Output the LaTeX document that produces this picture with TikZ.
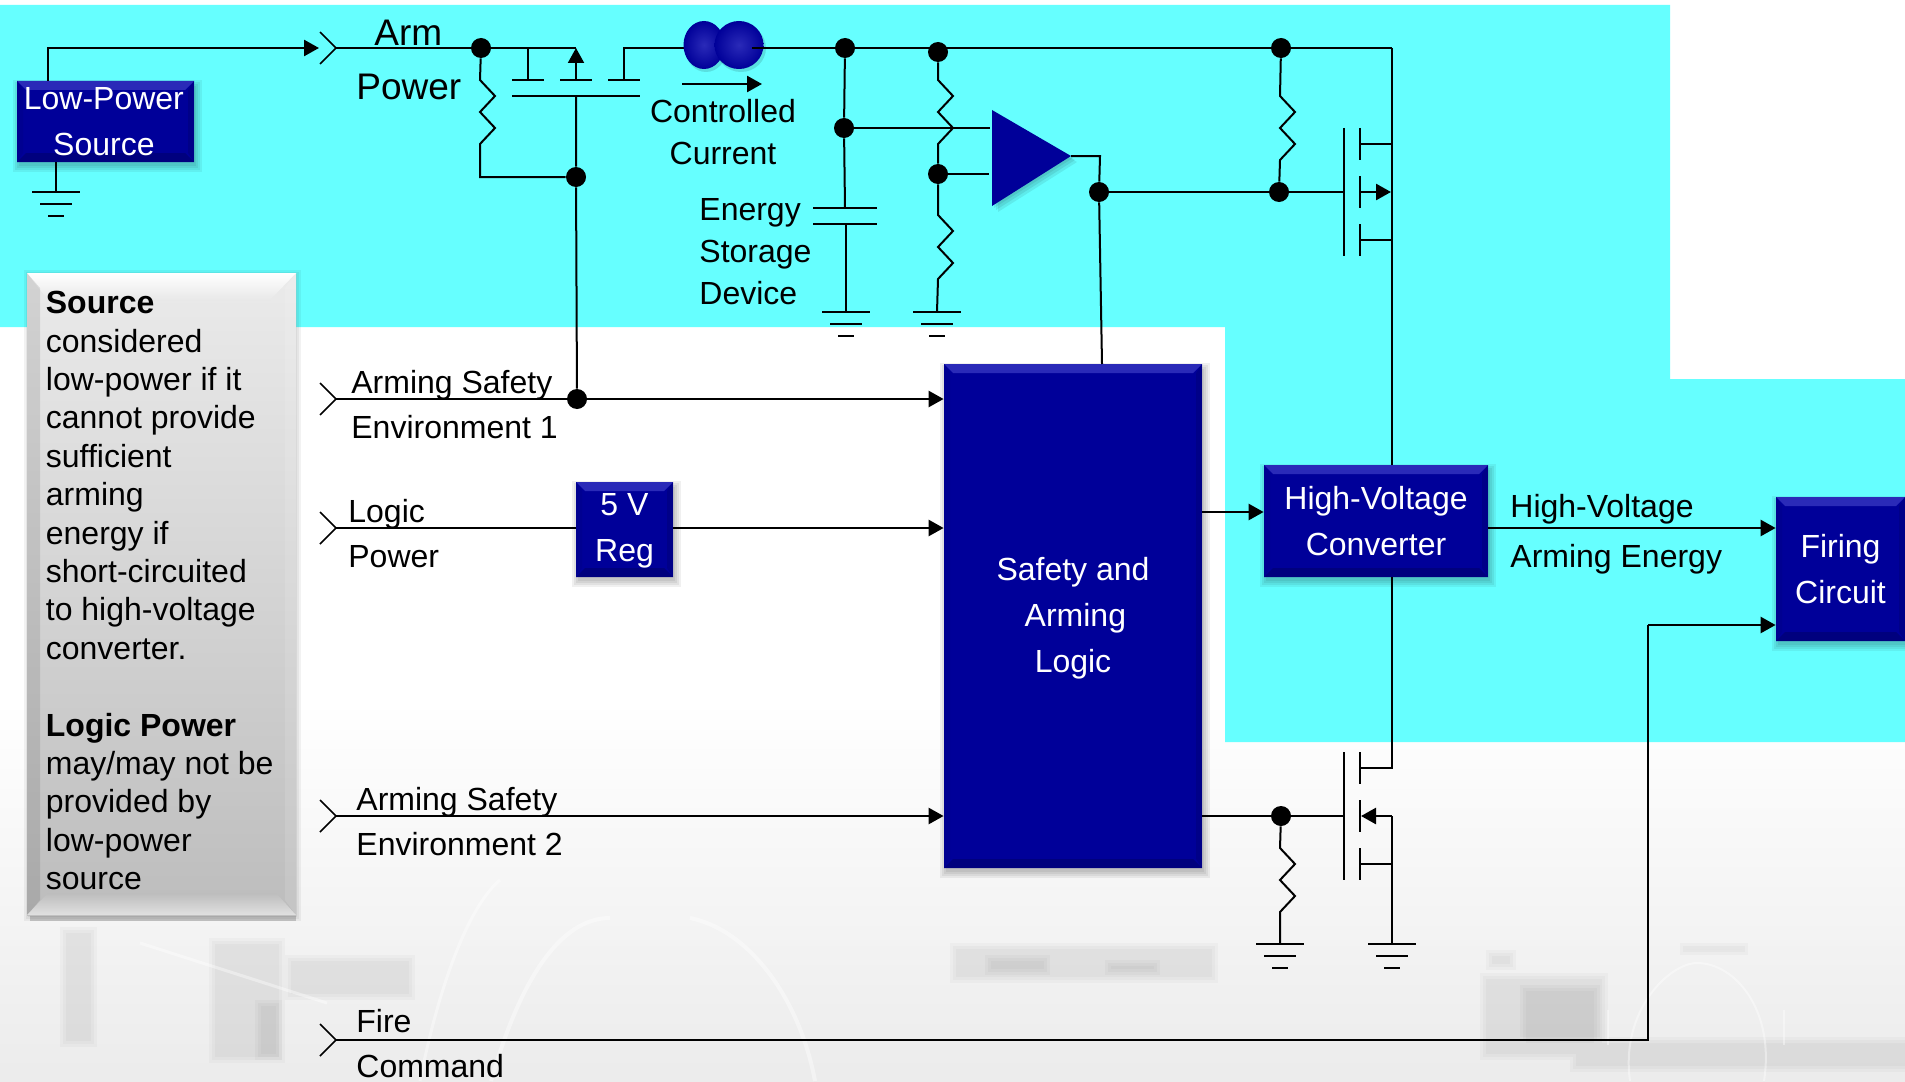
\documentclass[tikz,border=0pt]{standalone}
\usepackage{fontspec}
\setmainfont{Liberation Sans}
\usetikzlibrary{arrows.meta,shadings,calc,fadings,shapes.geometric}
\definecolor{cyanbg}{HTML}{66FFFF}
\definecolor{navy}{HTML}{000099}
\definecolor{navylite}{HTML}{2A2AB8}
\definecolor{navydark}{HTML}{00007E}
\newcommand\szf[2]{\fontsize{#1}{#2}\selectfont}
\newcommand\zigR{-- ++(15,16) -- ++(-15,16) -- ++(15,16) -- ++(-15,16)}
\newcommand\softbox[4]{\foreach \d in {0,2,4,6} {\fill[black,opacity=.06] ({#1+2-\d},{#2+5-\d}) rectangle ({#3+2+\d},{#4+4+\d});}}
\tikzset{
  x=0.5pt,y=-0.5pt,
  wire/.style={draw=black,line width=1pt},
  arrowwire/.style={wire,line width=1.3pt,-{Triangle[length=7.5pt,width=8pt]}},
  jdot/.style={circle,fill=black,inner sep=0pt,minimum size=10pt},
  lab/.style={inner sep=0pt,align=left,anchor=west,text=black,font=\szf{16}{21}},
  bluebox/.style={draw=none,fill=navy,inner sep=0pt,align=center,text=white,
     path picture={
       \coordinate (pNW) at (path picture bounding box.north west);
       \coordinate (pNE) at (path picture bounding box.north east);
       \coordinate (pSW) at (path picture bounding box.south west);
       \coordinate (pSE) at (path picture bounding box.south east);
       \fill[navylite] (pNW) -- (pNE) -- ($(pNE)+(-4.5pt,-4.5pt)$) -- ($(pNW)+(4.5pt,-4.5pt)$) -- cycle;
       \fill[navydark] (pSW) -- (pSE) -- ($(pSE)+(-4.5pt,4.5pt)$) -- ($(pSW)+(4.5pt,4.5pt)$) -- cycle;
       \fill[black!5!navy] (pNW) -- (pSW) -- ($(pSW)+(3pt,4.5pt)$) -- ($(pNW)+(3pt,-4.5pt)$) -- cycle;
       \fill[navydark,opacity=.6] (pNE) -- (pSE) -- ($(pSE)+(-3pt,4.5pt)$) -- ($(pNE)+(-3pt,-4.5pt)$) -- cycle;
     }},
  bead/.style={ellipse,inner sep=0pt},
  gnd/.pic={
    \draw[wire] (-24,0)--(24,0);
    \draw[wire] (-16,12)--(16,12);
    \draw[wire] (-8,24)--(8,24);
  },
  chev/.pic={\draw[line width=0.8pt] (-16,-16)--(0,0)--(-16,16);},
  ghost/.style={fill=black,opacity=.022},
  ghostline/.style={draw=white,opacity=.4},
}
\begin{document}
\begin{tikzpicture}
\useasboundingbox (0,0) rectangle (1905,1081);
% ---------- background
\fill[white] (0,0) rectangle (1905,1081);
\shade[top color=white,bottom color=black!10] (0,700) rectangle (1905,1200);
\foreach \d in {0,3,6} {
\fill[ghost] ({60+\d},{927+\d}) rectangle ({97-\d},{1047-\d});
\fill[ghost] ({209+\d},{938+\d}) rectangle ({285-\d},{1063-\d});
\fill[ghost] ({255+\d},{1000+\d}) rectangle ({282-\d},{1060-\d});
\fill[ghost] ({285+\d},{955+\d}) rectangle ({415-\d},{1000-\d});
\fill[ghost] ({950+\d},{943+\d}) rectangle ({1218-\d},{983-\d});
\fill[ghost] ({985+\d},{955+\d}) rectangle ({1050-\d},{975-\d});
\fill[ghost] ({1105+\d},{960+\d}) rectangle ({1160-\d},{975-\d});
\fill[ghost] ({1486+\d},{950+\d}) rectangle ({1516-\d},{970-\d});
\fill[ghost] ({1480+\d},{973+\d}) rectangle ({1608-\d},{1037+\d});
\fill[ghost] ({1520+\d},{985+\d}) rectangle ({1600-\d},{1037+\d});
\fill[ghost] ({1480+\d},{1037+\d}) rectangle ({1905+\d},{1060-\d});
\fill[ghost] ({1570+\d},{1060-\d}) rectangle ({1905+\d},{1072-\d});
\fill[ghost] ({1680+\d},{943+\d}) rectangle ({1748-\d},{955-\d});
}
\draw[ghostline,line width=2pt] (491,1081) .. controls (520,980) and (560,918) .. (610,918);
\draw[ghostline,line width=2pt] (690,918) .. controls (750,930) and (800,1000) .. (815,1081);
\draw[ghostline,line width=1.5pt] (420,1081) .. controls (440,980) and (470,905) .. (500,880);
\draw[ghostline,line width=1.5pt] (140,943) -- (327,1003);
\draw[ghostline,line width=1pt] (1630,1081) .. controls (1620,1010) and (1670,963) .. (1697,963) .. controls (1735,963) and (1775,1010) .. (1764,1081);
\draw[ghostline,line width=1pt] (1608,1010) -- (1608,1045);
\draw[ghostline,line width=1pt] (1784,1010) -- (1784,1045);
% cyan regions
\fill[cyanbg] (0,5) -- (1670,5) -- (1670,379) -- (1905,379) -- (1905,742) -- (1225,742) -- (1225,327) -- (0,327) -- cycle;
% ---------- grey note
\foreach \d in {0,2,4} {\fill[black,opacity=.05] ({27-\d+1},{273-\d+1}) rectangle ({296+\d+1},{915+\d+2});}
\fill[black,opacity=.18] (30,915) rectangle (296,921);
\shade[top color=black!8,bottom color=black!26] (27,273) rectangle (296,915);
\shade[top color=white,bottom color=black!9] (27,273) -- (296,273) -- (270,300) -- (48,300) -- cycle;
\shade[top color=black!26,bottom color=black!12] (27,915) -- (296,915) -- (276,893) -- (48,893) -- cycle;
\fill[black,opacity=.1] (27,273) -- (40,288) -- (40,900) -- (27,915) -- cycle;
\fill[white,opacity=.12] (296,273) -- (285,288) -- (285,900) -- (296,915) -- cycle;
\node[inner sep=0pt,anchor=north west,align=left,font=\szf{16}{19.2}] (note) at (45.5,291)
{\textbf{Source}\\considered\\low-power if it\\cannot provide\\sufficient\\arming\\energy if\\short-circuited\\to high-voltage\\converter.\\[19.2pt]\textbf{Logic Power}\\may/may not be\\provided by\\low-power\\source};
% ---------- shadows of blue shapes
\softbox{17}{81}{194}{162}
\softbox{576}{482}{673}{577}
\softbox{944}{364}{1202}{868}
\softbox{1264}{465}{1488}{577}
\softbox{1776}{497}{1905}{641}
\foreach \d in {2,4,6} {\fill[black,opacity=.08] ({992+\d},{110+\d}) -- ({1071+\d},{156+\d}) -- ({992+\d},{206+\d}) -- cycle;}
% ---------- blue boxes
\node[bluebox,minimum width=88.5pt,minimum height=40.5pt,font=\szf{16}{23}] (lps) at (105.5,121.5) {Low-Power\hspace*{1.6pt}\\Source\hspace*{1.6pt}};
\node[bluebox,minimum width=48.5pt,minimum height=47.5pt,font=\szf{16}{23}] (reg) at (624.5,529.5) {\rule{0pt}{12.5pt}5 V\\Reg};
\node[bluebox,minimum width=129pt,minimum height=252pt,font=\szf{16}{23}] (logic) at (1073,616) {\rule{0pt}{14pt}Safety and\\\hspace*{2.4pt}Arming\\Logic};
\node[bluebox,minimum width=112pt,minimum height=56pt,font=\szf{16}{23}] (hvc) at (1376,521) {High-Voltage\\Converter};
\node[bluebox,minimum width=64.5pt,minimum height=72pt,font=\szf{16}{23}] (fire) at (1840.5,569) {Firing\\Circuit};
% ---------- junctions and named points
\coordinate (apin) at (319,48);
\coordinate (c1) at (336,48);
\coordinate (c2) at (336,399);
\coordinate (c3) at (336,528);
\coordinate (c4) at (336,816);
\coordinate (c5) at (336,1040);
\pic at (c1) {chev}; \pic at (c2) {chev}; \pic at (c3) {chev}; \pic at (c4) {chev}; \pic at (c5) {chev};
\node[jdot] (j1) at (481,48) {};
\node[jdot] (j2) at (576,177) {};
\node[jdot] (j3) at (577,399) {};
\node[jdot] (j4) at (845,48) {};
\node[jdot] (j5) at (938,52) {};
\node[jdot] (j6) at (1281,48) {};
\node[jdot] (j7) at (844,128) {};
\node[jdot] (j8) at (938,174) {};
\node[jdot] (j9) at (1099,192) {};
\node[jdot] (j10) at (1279,192) {};
\node[jdot] (j11) at (1281,816) {};
\coordinate (corner) at (1392,48);
% ---------- top rail
\draw[arrowwire] (48,81) |- (apin);
\draw[wire] (c1) -- (j1) -- (576,48);
\coordinate (pm1) at (528,80); \coordinate (pm2) at (576,80); \coordinate (pm3) at (624,80);
\draw[wire] (512,96) -- (640,96);
\draw[wire] (512,80) -- (544,80);
\draw[wire] (560,80) -- (592,80);
\draw[wire] (608,80) -- (640,80);
\draw[wire] (528,48) -- (pm1);
\draw[wire,-{Triangle[length=7.5pt,width=8pt]}] (pm2) -- (576,48);
\draw[wire] (pm3) -- (624,48) -- (685,48);
\draw[wire] (576,96) -- (j2) -- (j3);
\draw[wire] (j1) -- (480,80) \zigR -- (480,177) -- (j2);
% beads
\fill[black,opacity=.12] (706,48) ellipse [x radius=21,y radius=24];
\fill[black,opacity=.12] (741,48) ellipse [x radius=25,y radius=24];
\node[bead,minimum width=20.5pt,minimum height=24pt,inner color=navylite,outer color=navy] (b1) at (704,45) {};
\node[bead,minimum width=24.5pt,minimum height=24pt,inner color=navylite,outer color=navy] (b2) at (739,45) {};
\coordinate (bout) at (752,48);
\draw[wire] (bout) -- (j4) -- (j6) -- (corner);
\coordinate (curA) at (682,84); \coordinate (curB) at (762,84);
\draw[wire,line width=1.3pt,-{Triangle[length=7.5pt,width=8pt]}] (curA) -- (curB);
% capacitor
\coordinate (capT) at (845,208); \coordinate (capB) at (846,224);
\draw[wire] (j4) -- (j7) -- (capT);
\draw[wire] (813,208) -- (877,208);
\draw[wire] (813,224) -- (877,224);
\coordinate (g2) at (846,312); \coordinate (g3) at (937,312);
\draw[wire] (capB) -- (g2);
\pic at (g2) {gnd};
\pic at (g3) {gnd};
% divider
\draw[wire] (j5) -- (938,80) \zigR -- (j8);
\draw[wire] (j8) -- (938,215) \zigR -- (938,279) -- (g3);
% amplifier
\coordinate (ampA) at (992,110); \coordinate (ampO) at (1071,156); \coordinate (ampB) at (992,206);
\fill[navy] (ampA) -- (ampO) -- (ampB) -- cycle;
\draw[wire] (j7) -- (990,128);
\draw[wire] (j8) -- (989,174);
\draw[wire] (ampO) -- (1100,156) -- (j9);
\draw[wire] (j9) -- (1102,364);
% upper gate
\draw[wire,line width=1.3pt] (j9) -- (j10) -- (1344,192);
\draw[wire] (j6) -- (1280,96) \zigR -- (1280,160) -- (j10);
\draw[wire] (1344,128) -- (1344,256);
\draw[wire] (1360,128) -- (1360,160);
\draw[wire] (1360,176) -- (1360,208);
\draw[wire] (1360,224) -- (1360,256);
\draw[wire] (1360,144) -- (1392,144);
\draw[wire] (1360,240) -- (1392,240);
\draw[wire,line width=1.3pt,-{Triangle[length=7.5pt,width=8pt]}] (1360,192) -- (1391,192);
\draw[wire] (corner) -- (hvc.north -| corner);
% ---------- signals
\draw[arrowwire] (c2) -- (j3) -- (logic.west |- j3);
\draw[wire] (c3) -- (reg.west |- c3);
\draw[arrowwire] (reg.east |- c3) -- (logic.west |- c3);
\draw[arrowwire] (c4) -- (logic.west |- c4);
\draw[arrowwire] (logic.east |- 0,512) -- (hvc.west |- 0,512);
\draw[arrowwire] (hvc.east |- 0,528) -- (fire.west |- 0,528);
\draw[wire] (c5) -- (1648,1040) -- (1648,625);
\draw[arrowwire] (1648,625) -- (fire.west |- 0,625);
% ---------- lower MOSFET
\coordinate (gm) at (1344,816);
\draw[wire] (logic.east |- gm) -- (j11) -- (gm);
\draw[wire] (hvc.south -| corner) -- (1392,768) -- (1360,768);
\draw[wire] (1344,752) -- (1344,880);
\draw[wire] (1360,752) -- (1360,784);
\draw[wire] (1360,800) -- (1360,832);
\draw[wire] (1360,848) -- (1360,880);
\draw[wire] (1360,864) -- (1392,864);
\coordinate (g5) at (1280,944); \coordinate (g6) at (1392,944);
\draw[wire,line width=1.3pt,-{Triangle[length=7.5pt,width=8pt]}] (1392,816) -- (1361,816);
\draw[wire] (1392,816) -- (g6);
\draw[wire] (j11) -- (1280,848) \zigR -- (1280,912) -- (g5);
\pic at (g5) {gnd};
\pic at (g6) {gnd};
% lps ground
\coordinate (g1) at (56,192);
\draw[wire] (56,162) -- (g1);
\pic at (g1) {gnd};
% ---------- labels
\node[lab,font=\szf{18.5}{27}] (larm) at (356,60) {\hspace{9pt}Arm\\Power};
\node[inner sep=0pt,align=center,font=\szf{16}{21}] (lcc) at (723,132) {Controlled\\Current};
\node[lab] (lesd) at (699,252) {Energy\\Storage\\Device};
\node[lab,font=\szf{16}{22.5}] (las1) at (351,405) {Arming Safety\\Environment 1};
\node[lab,font=\szf{16}{22.5}] (llp) at (348,534) {Logic\\Power};
\node[lab,font=\szf{16}{22.5}] (las2) at (356,822) {Arming Safety\\Environment 2};
\node[lab,font=\szf{16}{22.5}] (lfc) at (356,1044) {Fire\\Command};
\node[lab,font=\szf{16}{25}] (lhv) at (1510,534) {High-Voltage\\Arming Energy};
\end{tikzpicture}
\end{document}
